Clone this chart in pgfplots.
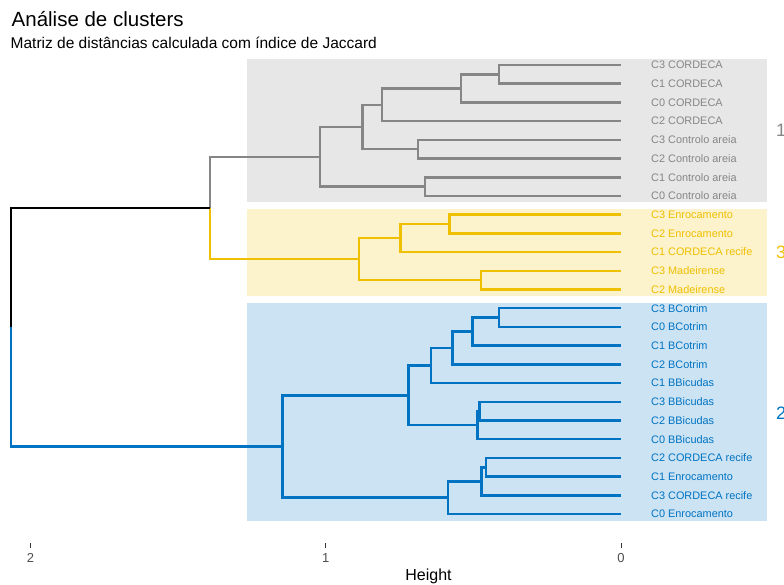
\documentclass[border=0pt]{standalone}
\usepackage{fontspec}
\setmainfont{Liberation Sans}
\usepackage{pgfplots}
\pgfplotsset{compat=1.18}
\definecolor{jgray}{HTML}{868686}
\definecolor{jyel}{HTML}{EFC000}
\definecolor{jblue}{HTML}{0073C2}
\definecolor{tickc}{HTML}{4D4D4D}
\newcommand{\leaffont}{\fontsize{10.9}{10.9}\selectfont}
\begin{document}
\begin{tikzpicture}
\path[use as bounding box] (0,0) rectangle (784pt,585pt);
\begin{axis}[
  at={(0pt,42pt)}, anchor=south west,
  scale only axis, width=784pt, height=488pt,
  x dir=reverse, y dir=reverse,
  xmin=-0.552, xmax=2.1029, ymin=0.4655, ymax=26.548,
  axis x line*=bottom, axis y line=none,
  x axis line style={draw=none},
  xtick={0,1,2}, ytick=\empty,
  tick align=outside, major tick length=5pt,
  tick style={color=black!80, line width=0.8pt},
  xticklabel style={font=\fontsize{13}{13}\selectfont, text=tickc, yshift=-2pt},
  /pgf/number format/assume math mode=true,
  unbounded coords=jump,
  clip=false,
]
% cluster rectangles
\addplot[draw=none, fill=jgray!20] coordinates {(1.2675,0.68) (-0.494,0.68) (-0.494,8.34) (1.2675,8.34)};
\addplot[draw=none, fill=jyel!20] coordinates {(1.2675,8.71) (-0.494,8.71) (-0.494,13.35) (1.2675,13.35)};
\addplot[draw=none, fill=jblue!20] coordinates {(1.2675,13.70) (-0.494,13.70) (-0.494,25.36) (1.2675,25.36)};
% gray cluster
\addplot[jgray, line width=2.5pt] coordinates {
(0,1) (0.413,1) (0.413,2) (0,2) (0,nan)
(0.413,1.5) (0.542,1.5) (0.542,3) (0,3) (0,nan)
(0.542,2.25) (0.809,2.25) (0.809,4) (0,4) (0,nan)
(0,5) (0.688,5) (0.688,6) (0,6) (0,nan)
(0.809,3.125) (0.875,3.125) (0.875,5.5) (0.688,5.5) (0,nan)
(0,7) (0.663,7) (0.663,8) (0,8) (0,nan)
(0.875,4.3125) (1.019,4.3125) (1.019,7.5) (0.663,7.5) (0,nan)
(1.019,5.90625) (1.392,5.90625) (1.392,8.640625)
};
% yellow cluster
\addplot[jyel, line width=2.5pt] coordinates {
(0,9) (0.581,9) (0.581,10) (0,10) (0,nan)
(0.581,9.5) (0.746,9.5) (0.746,11) (0,11) (0,nan)
(0,12) (0.474,12) (0.474,13) (0,13) (0,nan)
(0.746,10.25) (0.887,10.25) (0.887,12.5) (0.474,12.5) (0,nan)
(1.392,8.640625) (1.392,11.375) (0.887,11.375)
};
% root, upper branch
\addplot[black, line width=2.5pt] coordinates {
(1.392,8.640625) (2.066,8.640625) (2.066,15.015625)
};
% blue cluster
\addplot[jblue, line width=2.5pt] coordinates {
(2.066,15.015625) (2.066,21.390625) (1.147,21.390625) (0,nan)
(0,14) (0.413,14) (0.413,15) (0,15) (0,nan)
(0.413,14.5) (0.503,14.5) (0.503,16) (0,16) (0,nan)
(0.503,15.25) (0.571,15.25) (0.571,17) (0,17) (0,nan)
(0.571,16.125) (0.643,16.125) (0.643,18) (0,18) (0,nan)
(0,19) (0.479,19) (0.479,20) (0,20) (0,nan)
(0.479,19.5) (0.486,19.5) (0.486,21) (0,21) (0,nan)
(0.643,17.0625) (0.720,17.0625) (0.720,20.25) (0.486,20.25) (0,nan)
(0,22) (0.457,22) (0.457,23) (0,23) (0,nan)
(0.457,22.5) (0.472,22.5) (0.472,24) (0,24) (0,nan)
(0.472,23.25) (0.585,23.25) (0.585,25) (0,25) (0,nan)
(0.720,18.65625) (1.147,18.65625) (1.147,24.125) (0.585,24.125)
};
% leaf labels
\begin{scope}[every node/.style={anchor=west, inner sep=0pt, font=\leaffont}]
\node[text=jgray] at (axis cs:-0.1016,1) {C3 CORDECA};
\node[text=jgray] at (axis cs:-0.1016,2) {C1 CORDECA};
\node[text=jgray] at (axis cs:-0.1016,3) {C0 CORDECA};
\node[text=jgray] at (axis cs:-0.1016,4) {C2 CORDECA};
\node[text=jgray] at (axis cs:-0.1016,5) {C3 Controlo areia};
\node[text=jgray] at (axis cs:-0.1016,6) {C2 Controlo areia};
\node[text=jgray] at (axis cs:-0.1016,7) {C1 Controlo areia};
\node[text=jgray] at (axis cs:-0.1016,8) {C0 Controlo areia};
\node[text=jyel] at (axis cs:-0.1016,9) {C3 Enrocamento};
\node[text=jyel] at (axis cs:-0.1016,10) {C2 Enrocamento};
\node[text=jyel] at (axis cs:-0.1016,11) {C1 CORDECA recife};
\node[text=jyel] at (axis cs:-0.1016,12) {C3 Madeirense};
\node[text=jyel] at (axis cs:-0.1016,13) {C2 Madeirense};
\node[text=jblue] at (axis cs:-0.1016,14) {C3 BCotrim};
\node[text=jblue] at (axis cs:-0.1016,15) {C0 BCotrim};
\node[text=jblue] at (axis cs:-0.1016,16) {C1 BCotrim};
\node[text=jblue] at (axis cs:-0.1016,17) {C2 BCotrim};
\node[text=jblue] at (axis cs:-0.1016,18) {C1 BBicudas};
\node[text=jblue] at (axis cs:-0.1016,19) {C3 BBicudas};
\node[text=jblue] at (axis cs:-0.1016,20) {C2 BBicudas};
\node[text=jblue] at (axis cs:-0.1016,21) {C0 BBicudas};
\node[text=jblue] at (axis cs:-0.1016,22) {C2 CORDECA recife};
\node[text=jblue] at (axis cs:-0.1016,23) {C1 Enrocamento};
\node[text=jblue] at (axis cs:-0.1016,24) {C3 CORDECA recife};
\node[text=jblue] at (axis cs:-0.1016,25) {C0 Enrocamento};
\end{scope}
% cluster numbers
\begin{scope}[every node/.style={anchor=west, inner sep=0pt, font=\fontsize{18}{18}\selectfont}]
\node[text=jgray] at (axis cs:-0.525,4.5) {1};
\node[text=jyel] at (axis cs:-0.525,11) {3};
\node[text=jblue] at (axis cs:-0.525,19.6) {2};
\end{scope}
\end{axis}
\node[anchor=base west, inner sep=0pt, font=\fontsize{20.5}{20.5}\selectfont] at (11.5pt,558.3pt) {Análise de clusters};
\node[anchor=base west, inner sep=0pt, font=\fontsize{15.5}{15.5}\selectfont] at (10.5pt,536.7pt) {Matriz de distâncias calculada com índice de Jaccard};
\node[anchor=base, inner sep=0pt, font=\fontsize{16}{16}\selectfont] at (428.5pt,4pt) {Height};
\end{tikzpicture}
\end{document}
